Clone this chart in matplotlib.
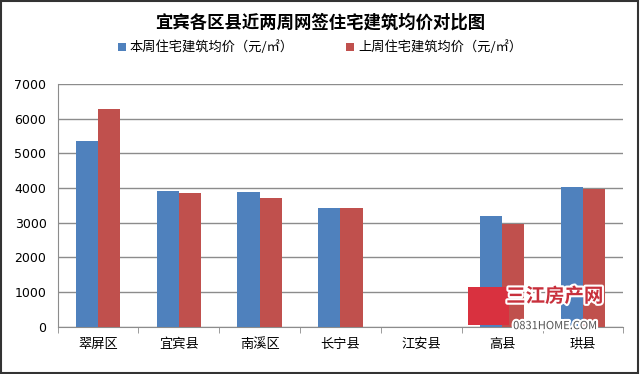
import matplotlib.pyplot as plt
import matplotlib.patheffects as pe
import numpy as np
from matplotlib.patches import Rectangle

plt.rcParams['font.family'] = ['Noto Sans CJK SC', 'DejaVu Sans']

# 数据
districts = ['翠屏区', '宜宾县', '南溪区', '长宁县', '江安县', '高县', '珙县']
this_week = [5360, 3910, 3880, 3420, 0, 3200, 4020]
last_week = [6270, 3870, 3720, 3420, 0, 2960, 3970]
yticks = [0, 1000, 2000, 3000, 4000, 5000, 6000, 7000]

fig = plt.figure(figsize=(6.4, 3.74), dpi=100)
ax = fig.add_axes([0.090, 0.127, 0.884, 0.648])

x = np.arange(len(districts))
w = 0.275
ax.bar(x - w / 2, this_week, w, color='#4f81bd', label='本周住宅建筑均价（元/㎡）', zorder=3)
ax.bar(x + w / 2, last_week, w, color='#c0504d', label='上周住宅建筑均价（元/㎡）', zorder=3)

ax.set_xlim(-0.5, len(districts) - 0.5)
ax.set_ylim(0, 7000)
ax.set_yticks(yticks)
ax.set_yticklabels([str(v) for v in yticks], fontsize=9, family='DejaVu Sans')
ax.yaxis.grid(True, color='#8c8c8c', linewidth=1, zorder=0)
ax.tick_params(axis='y', length=0, pad=8)

ax.set_xticks(x)
ax.set_xticklabels(districts, fontsize=9.5)
ax.set_xticks(np.arange(-0.5, len(districts)), minor=True)
ax.tick_params(axis='x', which='major', length=0, pad=8)
ax.tick_params(axis='x', which='minor', length=4, color='#8c8c8c')

for s in ['top', 'right']:
    ax.spines[s].set_visible(False)
ax.spines['left'].set_color('#8c8c8c')
ax.spines['bottom'].set_color('#8c8c8c')

fig.text(0.5, 0.94, '宜宾各区县近两周网签住宅建筑均价对比图', ha='center', va='center',
         fontsize=12.5, fontweight='bold')
ax.legend(loc='center', bbox_to_anchor=(0.5, 0.873), bbox_transform=fig.transFigure,
          ncol=2, frameon=False, fontsize=9.5, handlelength=0.6, handleheight=0.6,
          columnspacing=4.0, handletextpad=0.3)

# 水印 (画在坐标轴内，保证盖在柱子上面)
halo = [pe.withStroke(linewidth=3, foreground='white')]
logo = Rectangle((0.731, 0.13), 0.064, 0.103, transform=fig.transFigure,
                 facecolor='#d9313f', edgecolor='none', zorder=10, clip_on=False)
ax.add_patch(logo)
ax.text(0.867, 0.207, '三江房产网', transform=fig.transFigure, ha='center', va='center',
        fontsize=14, fontweight='bold', color='#c8303c', zorder=11, path_effects=halo)
ax.text(0.867, 0.128, '0831HOME.COM', transform=fig.transFigure, ha='center', va='center',
        fontsize=8, color='#555555', zorder=11, path_effects=halo)

# 外框
fig.add_artist(Rectangle((0.002, 0.003), 0.995, 0.994, transform=fig.transFigure,
                         fill=False, edgecolor='#333333', linewidth=1.5, zorder=7))

fig.savefig('out.png', dpi=100, facecolor='white')
